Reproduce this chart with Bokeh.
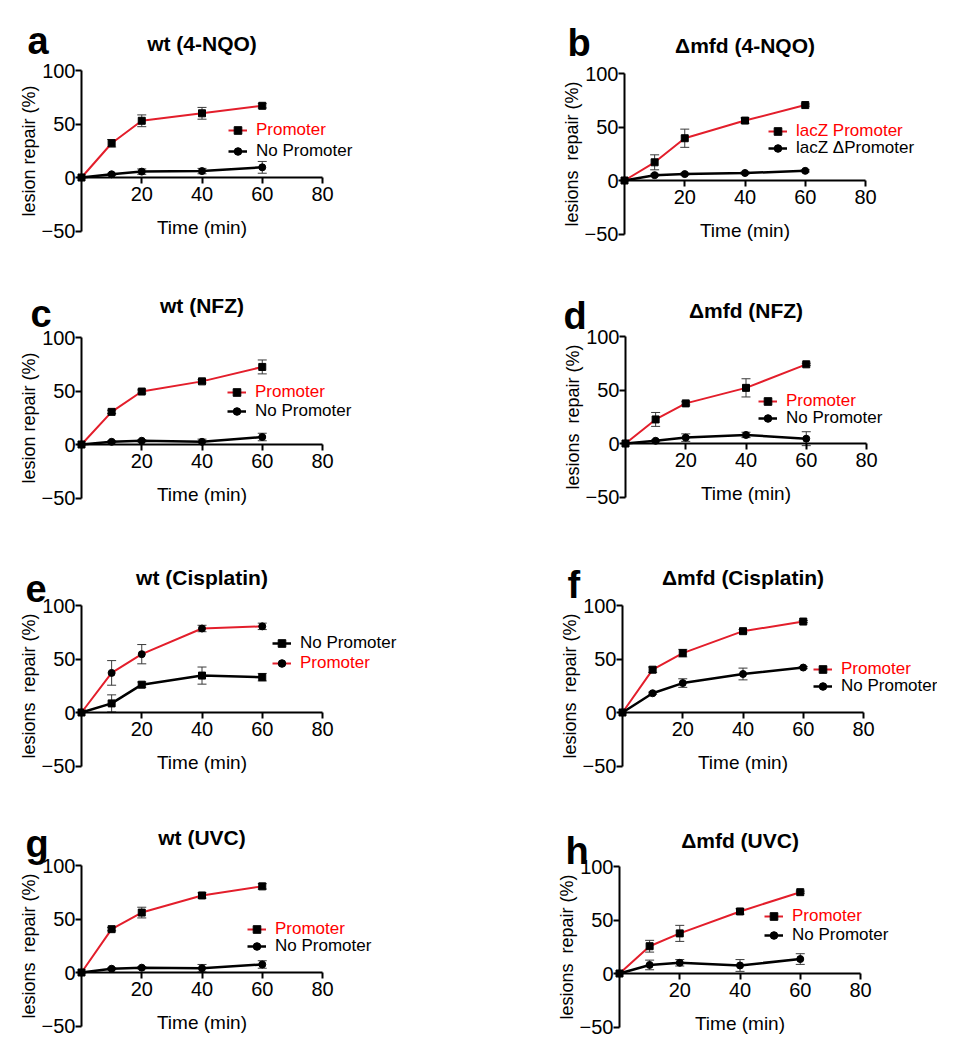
from bokeh.plotting import figure
from bokeh.layouts import gridplot
from bokeh.models import (Label, Legend, LegendItem, FixedTicker, Whisker, TeeHead,
                          ColumnDataSource, Range1d)
from bokeh.embed import file_html
from bokeh.resources import INLINE

# ---------------- data ----------------
time_min = [0, 10, 20, 40, 60]

a_prom = [0, 32, 53, 60, 67]
a_prom_err = [0, 3.5, 5.5, 5.5, 2]
a_noprom = [0, 3, 5.5, 6, 9.5]
a_noprom_err = [0, 1, 2.5, 2.5, 5.5]

b_prom = [0, 17, 39.5, 56, 70.5]
b_prom_err = [0, 7, 8.5, 2.5, 1]
b_noprom = [0, 5, 6, 7, 9]
b_noprom_err = [0, 1, 1, 1, 1]

c_prom = [0, 30.5, 49.5, 59, 72.5]
c_prom_err = [0, 1.5, 1.5, 1.5, 6.5]
c_noprom = [0, 2.5, 3.5, 2.5, 7]
c_noprom_err = [0, 1, 1, 2.5, 3.5]

d_prom = [0, 22.5, 37.5, 52, 74]
d_prom_err = [0, 6.5, 1.5, 8.5, 1]
d_noprom = [0, 2.5, 5.5, 8, 4.5]
d_noprom_err = [0, 1, 3.5, 2.5, 6.5]

e_prom = [0, 37, 54.5, 78.5, 80.5]
e_prom_err = [0, 11.5, 9, 3, 3]
e_noprom = [0, 8.5, 26, 34.5, 33]
e_noprom_err = [0, 8, 2.5, 8, 3.5]

f_prom = [0, 40, 55.5, 76, 85]
f_prom_err = [0, 2.5, 3.5, 1.5, 1]
f_noprom = [0, 18, 27.5, 36, 42]
f_noprom_err = [0, 1, 4, 5.5, 1]

g_prom = [0, 40.5, 56, 72, 80.5]
g_prom_err = [0, 1.5, 5, 2.5, 2.5]
g_noprom = [0, 3.5, 4.5, 4, 7.5]
g_noprom_err = [0, 1, 1, 3.5, 3.5]

h_prom = [0, 25.5, 37.5, 58, 76]
h_prom_err = [0, 5.5, 7.5, 2.5, 1]
h_noprom = [0, 8, 10, 7.5, 13.5]
h_noprom_err = [0, 4.5, 3, 5.5, 5]

x_ticks = [20, 40, 60, 80]
y_ticks = [-50, 0, 50, 100]

# ---------------- style / layout ----------------
RED_LINE = "#e31e2b"
RED_TEXT = "#ff0000"
ERR_COL = "#3a3a3a"
FONT = "Liberation Sans"
SX = 241 / 80.0
SY = 107 / 100.0

COL_W = [470, 467]
ROW_H = [262, 262, 262, 262]
COL_LEFT = [0, 470]
ROW_TOP = [0, 262, 524, 786]

YL_WT = "lesion repair (%)"
YL_MFD = "lesions\u00a0 repair (%)"

panels = [
    dict(letter="a", title="wt (4-NQO)", ylabel=YL_WT, origin=(81, 177),
         series=[("Promoter", a_prom, a_prom_err, "square", True),
                 ("No Promoter", a_noprom, a_noprom_err, "circle", False)],
         title_dy=134, letter_pos=(-54, 137), leg=(147, 47, 21)),
    dict(letter="b", title="\u0394mfd (4-NQO)", ylabel=YL_MFD, origin=(624, 180),
         series=[("lacZ Promoter", b_prom, b_prom_err, "square", True),
                 ("lacZ \u0394Promoter", b_noprom, b_noprom_err, "circle", False)],
         title_dy=135, letter_pos=(-57, 138), leg=(144, 49, 17)),
    dict(letter="c", title="wt (NFZ)", ylabel=YL_WT, origin=(81, 444),
         series=[("Promoter", c_prom, c_prom_err, "square", True),
                 ("No Promoter", c_noprom, c_noprom_err, "circle", False)],
         title_dy=139, letter_pos=(-51, 131), leg=(146, 52, 19)),
    dict(letter="d", title="\u0394mfd (NFZ)", ylabel=YL_MFD, origin=(625, 443),
         series=[("Promoter", d_prom, d_prom_err, "square", True),
                 ("No Promoter", d_noprom, d_noprom_err, "circle", False)],
         title_dy=133, letter_pos=(-62, 128), leg=(133, 42, 17)),
    dict(letter="e", title="wt (Cisplatin)", ylabel=YL_MFD, origin=(81, 712),
         series=[("No Promoter", e_noprom, e_noprom_err, "square", False),
                 ("Promoter", e_prom, e_prom_err, "circle", True)],
         title_dy=135, letter_pos=(-56, 124), leg=(191, 69, 20)),
    dict(letter="f", title="\u0394mfd (Cisplatin)", ylabel=YL_MFD, origin=(622, 712),
         series=[("Promoter", f_prom, f_prom_err, "square", True),
                 ("No Promoter", f_noprom, f_noprom_err, "circle", False)],
         title_dy=135, letter_pos=(-55, 128), leg=(191, 43, 17)),
    dict(letter="g", title="wt (UVC)", ylabel=YL_MFD, origin=(81, 972),
         series=[("Promoter", g_prom, g_prom_err, "square", True),
                 ("No Promoter", g_noprom, g_noprom_err, "circle", False)],
         title_dy=135, letter_pos=(-56, 129), leg=(166, 43, 17)),
    dict(letter="h", title="\u0394mfd (UVC)", ylabel=YL_MFD, origin=(619, 973),
         series=[("Promoter", h_prom, h_prom_err, "square", True),
                 ("No Promoter", h_noprom, h_noprom_err, "circle", False)],
         title_dy=133, letter_pos=(-54, 123), leg=(145, 57, 19)),
]


def make_panel(i, cfg):
    row, col = divmod(i, 2)
    W, H = COL_W[col], ROW_H[row]
    ox, oy = cfg["origin"]
    fx = ox - COL_LEFT[col]
    fy = oy - ROW_TOP[row]
    p = figure(width=W, height=H, output_backend="svg", toolbar_location=None,
               x_range=Range1d(-fx / SX, (W - fx) / SX),
               y_range=Range1d(-(H - fy) / SY, fy / SY),
               min_border=0, outline_line_color=None,
               background_fill_color="white", border_fill_color="white")
    p.xgrid.visible = False
    p.ygrid.visible = False

    for ax, ticks, bounds in ((p.xaxis, x_ticks, (0, 80)), (p.yaxis, y_ticks, (-50, 100))):
        ax.fixed_location = 0
        ax.bounds = bounds
        ax.ticker = FixedTicker(ticks=ticks)
        ax.axis_line_width = 2
        ax.axis_line_color = "black"
        ax.major_tick_line_width = 2
        ax.major_tick_line_color = "black"
        ax.major_tick_in = 0
        ax.major_tick_out = 6
        ax.minor_tick_line_color = None
        ax.major_label_text_font = FONT
        ax.major_label_text_font_size = "20px"
        ax.major_label_text_color = "black"
        ax.axis_label_text_font = FONT
        ax.axis_label_text_font_size = "18px"
        ax.axis_label_text_font_style = "normal"
        ax.axis_label_text_color = "black"
    p.xaxis.axis_label = "Time (min)"
    p.xaxis.axis_label_text_font_size = "19px"
    p.xaxis.major_label_standoff = 3
    p.xaxis.axis_label_standoff = 13
    p.yaxis.axis_label = cfg["ylabel"]
    p.yaxis.major_label_standoff = 0
    p.yaxis.axis_label_standoff = 0

    legend_rows = []
    for label, ys, errs, marker, is_red in cfg["series"]:
        lo = [y - e for y, e in zip(ys, errs) if e > 0]
        up = [y + e for y, e in zip(ys, errs) if e > 0]
        bx = [t for t, e in zip(time_min, errs) if e > 0]
        src = ColumnDataSource(dict(base=bx, lower=lo, upper=up))
        p.add_layout(Whisker(source=src, base="base", lower="lower", upper="upper",
                             line_color=ERR_COL, line_width=1,
                             upper_head=TeeHead(size=9, line_color=ERR_COL, line_width=1),
                             lower_head=TeeHead(size=9, line_color=ERR_COL, line_width=1)))
        lr = p.line(time_min, ys, line_color=RED_LINE if is_red else "black",
                    line_width=2 if is_red else 2.5)
        sr = p.scatter(time_min, ys, marker=marker, size=7, fill_color="black",
                       line_color="black")
        legend_rows.append((label, lr, sr, is_red))

    lgx, lgy, pitch = cfg["leg"]
    for k, (label, lr, sr, is_red) in enumerate(legend_rows):
        center_from_top = fy - lgy + k * pitch
        bottom_from_top = center_from_top + 10
        leg = Legend(items=[LegendItem(label=label, renderers=[lr, sr])],
                     location=(fx + lgx, H - bottom_from_top),
                     label_text_color=RED_TEXT if is_red else "black",
                     label_text_font=FONT, label_text_font_size="17px",
                     glyph_width=19, glyph_height=20, label_height=20,
                     label_standoff=9, padding=0, margin=0, spacing=0,
                     border_line_color=None, background_fill_alpha=0)
        p.add_layout(leg)

    p.add_layout(Label(x=40, y=cfg["title_dy"] / SY, text=cfg["title"],
                       text_align="center", text_baseline="middle",
                       text_font=FONT, text_font_size="21px", text_font_style="bold",
                       text_color="black"))
    ldx, ldy = cfg["letter_pos"]
    p.add_layout(Label(x=ldx / SX, y=ldy / SY, text=cfg["letter"],
                       text_align="left", text_baseline="alphabetic",
                       text_font=FONT, text_font_size="38px", text_font_style="bold",
                       text_color="black"))
    return p


figs = [make_panel(i, c) for i, c in enumerate(panels)]
grid = gridplot([[figs[0], figs[1]], [figs[2], figs[3]], [figs[4], figs[5]], [figs[6], figs[7]]],
                toolbar_location=None)

open("out.html", "w").write(file_html(grid, INLINE))
